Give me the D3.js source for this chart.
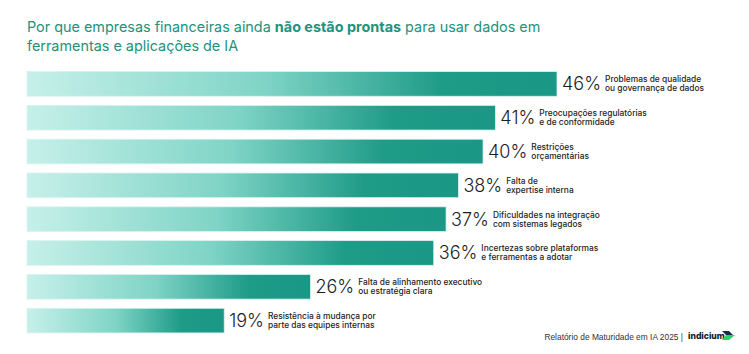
<!DOCTYPE html>
<html lang="pt">
<head>
  <meta charset="UTF-8">
  <script src="https://d3js.org/d3.v7.min.js"></script>
  <title>IA financeiras</title>
  <style>
    body { margin: 0; background: #fff; }
    text { font-family: "Inter", "Noto Sans", sans-serif; }
  </style>
</head>
<body>
  <svg id="chart" width="749" height="354"></svg>
  <script>
    // data
    const values = [46, 41, 40, 38, 37, 36, 26, 19];
    const labelsTop = ["Problemas de qualidade", "Preocupações regulatórias", "Restrições", "Falta de",
      "Dificuldades na integração", "Incertezas sobre plataformas", "Falta de alinhamento executivo", "Resistência à mudança por"];
    const labelsBottom = ["ou governança de dados", "e de conformidade", "orçamentárias", "expertise interna",
      "com sistemas legados", "e ferramentas a adotar", "ou estratégia clara", "parte das equipes internas"];

    const svg = d3.select("#chart");
    const barLeft = 27;

    const x = d3.scaleLinear().domain([3, 46]).range([barLeft, 557]);
    const y = d3.scaleBand().domain(d3.range(values.length)).range([67.5, 337]).paddingInner(0.27).paddingOuter(0.12);

    // title
    const title = svg.append("text").attr("x", 27).attr("y", 32)
      .attr("fill", "#23917c").attr("font-size", 14.4);
    title.append("tspan").text("Por que empresas financeiras ainda ");
    title.append("tspan").attr("font-weight", 700).text("não estão prontas");
    title.append("tspan").text(" para usar dados em");
    svg.append("text").attr("x", 27).attr("y", 50.5)
      .attr("fill", "#23917c").attr("font-size", 14.4)
      .text("ferramentas e aplicações de IA");

    const grad = svg.append("defs").append("linearGradient").attr("id", "barGrad")
      .attr("x1", "0%").attr("x2", "100%").attr("y1", "0%").attr("y2", "0%");
    grad.append("stop").attr("offset", "0%").attr("stop-color", "#c6f0ea");
    grad.append("stop").attr("offset", "45%").attr("stop-color", "#7fd4c6");
    grad.append("stop").attr("offset", "78%").attr("stop-color", "#1f9c88");
    grad.append("stop").attr("offset", "100%").attr("stop-color", "#1a9785");

    const rows = svg.selectAll("g.row").data(values).join("g").attr("class", "row");

    rows.append("rect")
      .attr("x", barLeft)
      .attr("y", (d, i) => y(i))
      .attr("width", d => x(d) - barLeft)
      .attr("height", y.bandwidth())
      .attr("fill", "url(#barGrad)")
      .attr("stroke", "#d8f3ef")
      .attr("stroke-width", 0.8);

    const pct = rows.append("text")
      .attr("x", d => x(d) + 5)
      .attr("y", (d, i) => y(i) + y.bandwidth() / 2 + 6.5)
      .attr("font-size", 18)
      .attr("font-weight", 300)
      .attr("fill", "#1d1d1d")
      .text(d => d + "%");

    pct.each(function (d, i) {
      const w = this.getComputedTextLength();
      const cx = x(d) + 5 + w + 4;
      const cy = y(i) + y.bandwidth() / 2;
      const g = d3.select(this.parentNode);
      g.append("text").attr("x", cx).attr("y", cy - 1.5)
        .attr("font-size", 8.4).attr("font-weight", 500).attr("fill", "#1d1d1d")
        .text(labelsTop[i]);
      g.append("text").attr("x", cx).attr("y", cy + 7.5)
        .attr("font-size", 8.4).attr("font-weight", 500).attr("fill", "#1d1d1d")
        .text(labelsBottom[i]);
    });

    // footer
    svg.append("text").attr("x", 683).attr("y", 339.5)
      .attr("text-anchor", "end")
      .attr("font-size", 8.4).attr("fill", "#333")
      .style("font-family", "'Liberation Sans', sans-serif")
      .text("Relatório de Maturidade em IA 2025 |");
    svg.append("text").attr("x", 688).attr("y", 339)
      .attr("font-size", 8.6).attr("font-weight", 800).attr("fill", "#141a2e")
      .text("indicium");
    svg.append("path").attr("d", "M722,331 L729,331 L733,335 L726,335 Z").attr("fill", "#1d2a4a");
    svg.append("path").attr("d", "M726,335 L735,335 L729,340 L722,340 Z").attr("fill", "#2bd46a");
  </script>
</body>
</html>
